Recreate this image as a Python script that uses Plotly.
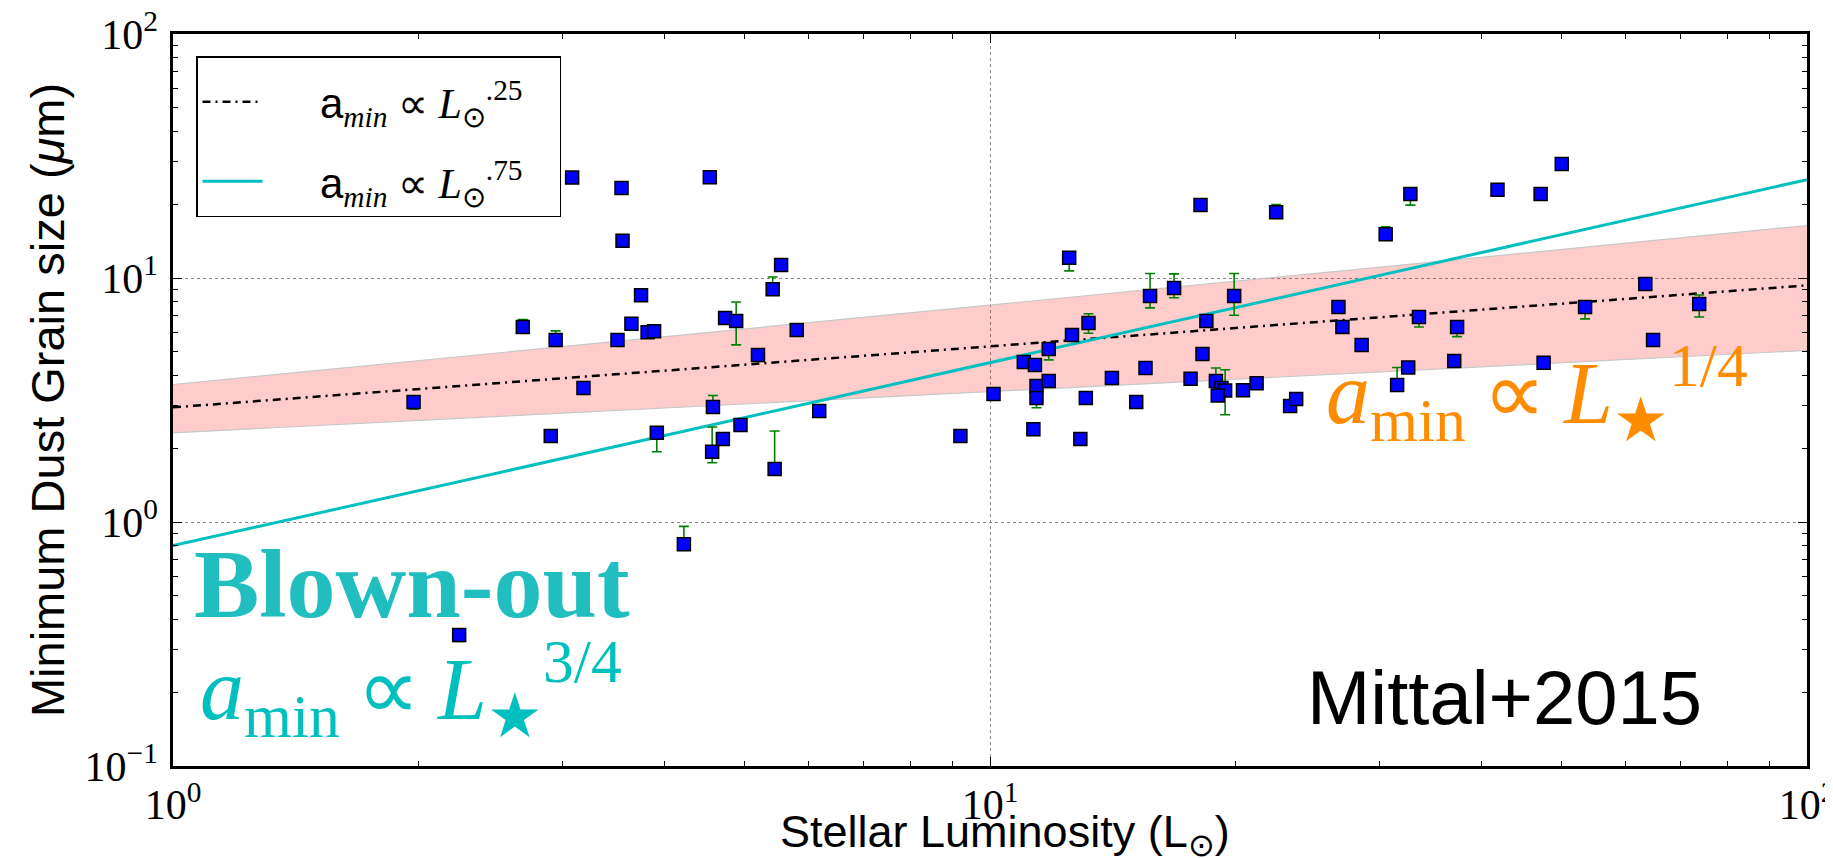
import plotly.graph_objects as go

# ---------------- data ----------------
L_star = [1.97, 2.24, 2.68, 2.90, 2.94, 3.08, 3.18, 3.50, 3.54, 3.55,
          3.64, 3.74, 3.81, 3.88, 3.91, 4.22, 4.54, 4.57, 4.58, 4.71,
          4.74, 4.89, 4.95, 5.20, 5.42, 5.45, 5.55, 5.80, 6.18, 9.20,
          10.1, 11.0, 11.35, 11.4, 11.4, 11.3, 11.8, 11.8, 12.5, 12.6,
          13.2, 12.9, 13.1, 14.1, 15.1, 15.5, 15.7, 16.8, 18.1, 18.2,
          18.4, 17.6, 18.9, 19.2, 19.4, 19.0, 19.9, 20.4, 21.2, 22.4,
          23.3, 23.7, 26.7, 27.0, 28.5, 30.5, 31.5, 32.5, 32.7, 33.5,
          37.3, 37.0, 41.8, 47.2, 47.6, 50.1, 53.5, 63.4, 64.8, 73.8]
a_min = [3.10, 0.344, 6.3, 2.25, 5.57, 25.8, 3.54, 5.57, 23.4, 14.2,
         6.5, 8.5, 6.0, 6.05, 2.32, 0.81, 25.9, 1.94, 2.96, 2.19,
         6.86, 6.67, 2.50, 4.83, 9.0, 1.65, 11.3, 6.12, 2.85, 2.25,
         3.35, 4.53, 4.40, 3.61, 3.22, 2.40, 5.12, 3.78, 12.1, 5.84,
         6.54, 2.19, 3.22, 3.89, 3.10, 4.28, 8.44, 9.1, 19.9, 4.88,
         6.67, 3.86, 3.78, 3.54, 3.46, 3.30, 8.44, 3.47, 3.70, 18.6,
         2.99, 3.19, 7.6, 6.3, 5.31, 15.1, 3.64, 4.30, 22.1, 6.92,
         6.3, 4.57, 23.0, 22.1, 4.49, 29.3, 7.6, 9.45, 5.57, 7.82]
err_up = [0, 0, 0.45, 0, 0.5, 0, 0, 0.2, 0, 0,
          0, 0, 0, 0, 0, 0.15, 0.8, 0.51, 0.34, 0,
          0, 1.3, 0, 0, 1.1, 0.71, 0, 0, 0, 0,
          0, 0, 0, 0, 0, 0, 0, 0, 0, 0,
          0.6, 0, 0, 0, 0, 0, 2.0, 1.3, 0, 0,
          0, 0.1, 0.5, 0, 0.75, 0, 2.0, 0, 0, 1.4,
          0, 0, 0, 0, 0, 1.1, 0.66, 0, 0, 0,
          0, 0, 0, 0, 0, 0, 0, 0, 0, 0.7]
err_dn = [0.2, 0.02, 0, 0, 0, 0, 0, 0, 0, 0.5,
          0, 0, 0, 0, 0.38, 0, 0, 0.19, 0, 0,
          0, 1.35, 0, 0, 0, 0.07, 0.3, 0, 0, 0,
          0, 0, 0, 0, 0.28, 0.05, 0.5, 0, 1.4, 0,
          0.6, 0.05, 0, 0, 0, 0, 0.9, 0.8, 0, 0,
          0, 0, 0, 0, 0.71, 0, 1.4, 0, 0, 0,
          0, 0, 0, 0, 0, 0, 0, 0, 2.2, 0.62,
          0.55, 0, 0, 0, 0, 0.4, 0.8, 0.3, 0, 0.9]

# model lines and uncertainty band
fit_L = [1.0, 100.0]
coef_quarter, pow_quarter = 2.95, 0.25
coef_three, pow_three = 0.80, 0.75
band_lo = [2.32, 5.05]
band_hi = [3.66, 16.4]

x_tickvals = [1, 10, 100]
x_ticktext = ["10<sup>0</sup>", "10<sup>1</sup>", "10<sup>2</sup>"]
y_tickvals = [0.1, 1, 10, 100]
y_ticktext = ["10<sup>\u22121</sup>", "10<sup>0</sup>", "10<sup>1</sup>", "10<sup>2</sup>"]

# ---------------- figure ----------------
W, H = 1833, 858
ML, MR, MT, MB = 165, 34, 26, 100
PW, PH = W - ML - MR, H - MT - MB


def px(x):
    return (x - ML) / PW


def py(y):
    return (H - MB - y) / PH


fig = go.Figure()

fig.add_trace(go.Scatter(x=fit_L, y=band_lo, mode="lines",
                         line=dict(color="#c8c8c8", width=1.2),
                         showlegend=False, hoverinfo="skip"))
fig.add_trace(go.Scatter(x=fit_L, y=band_hi, mode="lines", fill="tonexty",
                         fillcolor="rgba(255,0,0,0.2)",
                         line=dict(color="#c8c8c8", width=1.2),
                         showlegend=False, hoverinfo="skip"))

quarter_y = [coef_quarter * l ** pow_quarter for l in fit_L]
three_y = [coef_three * l ** pow_three for l in fit_L]

a_sans = '<span style="font-family:Liberation Sans">a</span>'
sun_leg = "<i>L</i><sub>\u2299</sub>"
pad = "\u00a0\u00a0\u00a0"
fig.add_trace(go.Scatter(
    x=fit_L, y=quarter_y, mode="lines",
    line=dict(color="black", width=2.5, dash="8px,5px,2px,5px"),
    name="\u2003\u00a0" + a_sans + "<sub><i>min</i></sub> \u221d " + sun_leg + "<sup>.25</sup>" + pad,
    legendgroup="g1"))
fig.add_trace(go.Scatter(
    x=fit_L, y=three_y, mode="lines",
    line=dict(color="#00BFBF", width=3),
    name="\u2003\u00a0" + a_sans + "<sub><i>min</i></sub> \u221d " + sun_leg + "<sup>.75</sup>" + pad,
    legendgroup="g2"))

fig.add_trace(go.Scatter(
    x=L_star, y=a_min, mode="markers",
    marker=dict(symbol="square", size=13, color="#0000FF",
                line=dict(color="black", width=1.5)),
    error_y=dict(type="data", symmetric=False, array=err_up, arrayminus=err_dn,
                 color="green", thickness=1.6, width=5),
    showlegend=False))

axis_common = dict(
    type="log", showline=True, linecolor="black", linewidth=2.5, mirror="allticks",
    ticks="inside", ticklen=9, tickwidth=1.2, tickcolor="black",
    showgrid=True, gridcolor="#888888", gridwidth=1, griddash="dot",
    zeroline=False, tickmode="array", ticklabeloverflow="allow", automargin=False,
    tickfont=dict(family="Liberation Serif", size=42, color="black"),
)

minor_vals = [m * 10 ** e for e in (-1, 0, 1) for m in range(2, 10)]

fig.update_xaxes(
    range=[0, 2], tickvals=x_tickvals, ticktext=x_ticktext,
    minor=dict(tickmode="array", tickvals=[v for v in minor_vals if 1 < v < 100],
               ticks="inside", ticklen=5, tickcolor="black", tickwidth=1, showgrid=False),
    ticklabelstandoff=0,
    **axis_common)
fig.update_yaxes(
    range=[-1, 2], tickvals=y_tickvals, ticktext=y_ticktext,
    minor=dict(tickmode="array", tickvals=[v for v in minor_vals if 0.1 < v < 100],
               ticks="inside", ticklen=5, tickcolor="black", tickwidth=1, showgrid=False),
    title=dict(text="Minimum Dust Grain size (<i>\u03bc</i>m)",
               font=dict(family="Liberation Sans", size=47, color="black"), standoff=6),
    ticklabelstandoff=4,
    **axis_common)

cyan = "#00BFBF"
orange = "#FF8C00"
ts = "\u2009"
formula_34 = "<i>a</i><sub>min</sub>" + ts + "\u221d" + ts + "<i>L</i><sub>\u2605</sub><sup>3/4</sup>"
formula_14 = "<i>a</i><sub>min</sub>" + ts + "\u221d" + ts + "<i>L</i><sub>\u2605</sub><sup>1/4</sup>"
annots = [
    dict(text="Stellar Luminosity (L<sub>\u2299</sub>)", x=px(997), y=py(826),
         xanchor="center", yanchor="middle",
         font=dict(family="Liberation Sans", size=45, color="black")),
    dict(text="<b>Blown-out</b>", x=px(184), y=py(576), xanchor="left", yanchor="middle",
         font=dict(family="Liberation Serif", size=98, color="#20BEBE")),
    dict(text=formula_34,
         x=px(190), y=py(680), xanchor="left", yanchor="middle",
         font=dict(family="Liberation Serif", size=88, color=cyan)),
    dict(text=formula_14,
         x=px(1316), y=py(384), xanchor="left", yanchor="middle",
         font=dict(family="Liberation Serif", size=88, color=orange)),
    dict(text="Mittal+2015", x=px(1297), y=py(689), xanchor="left", yanchor="middle",
         font=dict(family="Liberation Sans", size=76, color="black")),
]
for a in annots:
    a.update(xref="paper", yref="paper", showarrow=False)

fig.update_layout(
    width=W, height=H,
    margin=dict(l=ML, r=MR, t=MT, b=MB, pad=0, autoexpand=False),
    paper_bgcolor="white", plot_bgcolor="white",
    annotations=annots,
    legend=dict(x=px(188), y=py(48), xanchor="left", yanchor="top",
                bgcolor="white", bordercolor="black", borderwidth=1.5,
                font=dict(family="Liberation Serif", size=42, color="black"),
                title=dict(text=" ", font=dict(size=8)),
                tracegroupgap=22, itemwidth=60, traceorder="grouped"),
    showlegend=True,
)

fig.write_html("out.html")
